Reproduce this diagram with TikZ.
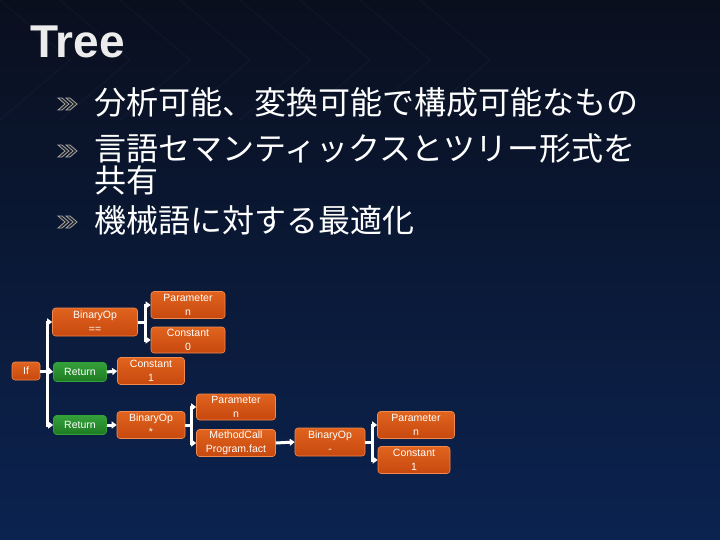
\documentclass[tikz,border=0pt]{standalone}
\usepackage{fontspec}
\setmainfont{Liberation Sans}
\newfontfamily\cjk{Noto Sans CJK JP}
\usetikzlibrary{arrows.meta}
\definecolor{bgtop}{HTML}{0A0F1E}
\definecolor{bgbot}{HTML}{0B2350}
\definecolor{orfill}{HTML}{C8480E}
\definecolor{orfillb}{HTML}{E0631E}
\definecolor{ordraw}{HTML}{F08A50}
\definecolor{grfill}{HTML}{1E7A22}
\definecolor{grfillb}{HTML}{34A03A}
\tikzset{
  box/.style={rectangle, rounded corners=3pt, draw=ordraw, line width=0.6pt, top color=orfillb, bottom color=orfill, text=white, font=\fontsize{10.5}{14}\selectfont, align=center, inner sep=0pt},
  gbox/.style={box, draw=grfillb, top color=grfillb, bottom color=grfill},
  conn/.style={white, line width=3pt},
  arr/.style={conn, -{Triangle[length=5pt,width=7pt]}},
  bul/.style={text=white, font=\cjk\fontsize{32}{34}\selectfont, anchor=west, inner sep=0pt},
  bulmark/.style={draw=gray!70, fill=gray!30!black, line width=0.8pt}
}
\newcommand{\chev}[2]{%
  \path[bulmark] (#1-2,#2-6) -- (#1+5,#2) -- (#1-2,#2+6) -- (#1+2,#2+6) -- (#1+9,#2) -- (#1+2,#2-6) -- cycle;
  \path[bulmark] (#1+6,#2-6) -- (#1+13,#2) -- (#1+6,#2+6) -- (#1+10,#2+6) -- (#1+17,#2) -- (#1+10,#2-6) -- cycle;}
\begin{document}
\begin{tikzpicture}[x=1pt,y=-1pt]
\useasboundingbox (0,0) rectangle (720,540);
\shade[top color=bgtop, bottom color=bgbot] (0,0) rectangle (720,540);
\foreach \i in {0,60,...,420} {\draw[white, opacity=0.03, line width=1pt] (\i,0) -- (\i+70,60) -- (\i,120);}
\node[anchor=west, inner sep=0pt, text=gray!15, font=\bfseries\fontsize{46}{46}\selectfont] (title) at (30,42) {Tree};
\chev{60}{104}
\chev{60}{151}
\chev{60}{222}
\node[bul] (t1) at (94,102) {分析可能、変換可能で構成可能なもの};
\node[bul] (t2) at (94,149) {言語セマンティックスとツリー形式を};
\node[bul] (t2b) at (94,180) {共有};
\node[bul] (t3) at (94,220) {機械語に対する最適化};
% nodes
\node[box, minimum width=28pt, minimum height=18pt] (if) at (26,371) {If};
\node[box, minimum width=85pt, minimum height=28pt] (bop1) at (95,322) {BinaryOp\\==};
\node[gbox, minimum width=53pt, minimum height=19pt] (ret1) at (80,372) {Return};
\node[gbox, minimum width=53pt, minimum height=19pt] (ret2) at (80,425) {Return};
\node[box, minimum width=74pt, minimum height=27pt] (par1) at (188,305) {Parameter\\n};
\node[box, minimum width=74pt, minimum height=26pt] (con0) at (188,340) {Constant\\0};
\node[box, minimum width=67pt, minimum height=27pt] (con1) at (151,371) {Constant\\1};
\node[box, minimum width=68pt, minimum height=27pt] (bop2) at (151,425) {BinaryOp\\*};
\node[box, minimum width=79pt, minimum height=26pt] (par2) at (236,407) {Parameter\\n};
\node[box, minimum width=79pt, minimum height=27pt] (mc) at (236,443) {MethodCall\\Program.fact};
\node[box, minimum width=70pt, minimum height=28pt] (bop3) at (330,442) {BinaryOp\\-};
\node[box, minimum width=77pt, minimum height=27pt] (par3) at (416,425) {Parameter\\n};
\node[box, minimum width=72pt, minimum height=27pt] (con2) at (414,460) {Constant\\1};
% connectors
\coordinate (j1) at (47,371);
\draw[conn] (if.east) -- (j1);
\draw[arr] (j1) |- (bop1.west);
\draw[arr] (j1) -- (ret1.west);
\draw[arr] (j1) |- (ret2.west);
\coordinate (j2) at (145,322);
\draw[conn] (bop1.east) -- (j2);
\draw[arr] (j2) |- (par1.west);
\draw[arr] (j2) |- (con0.west);
\draw[arr] (ret1.east) -- (con1.west);
\draw[arr] (ret2.east) -- (bop2.west);
\coordinate (j3) at (191,425);
\draw[conn] (bop2.east) -- (j3);
\draw[arr] (j3) |- (par2.west);
\draw[arr] (j3) |- (mc.west);
\draw[arr] (mc.east) -- (bop3.west);
\coordinate (j4) at (372,442);
\draw[conn] (bop3.east) -- (j4);
\draw[arr] (j4) |- (par3.west);
\draw[arr] (j4) |- (con2.west);
\end{tikzpicture}
\end{document}
